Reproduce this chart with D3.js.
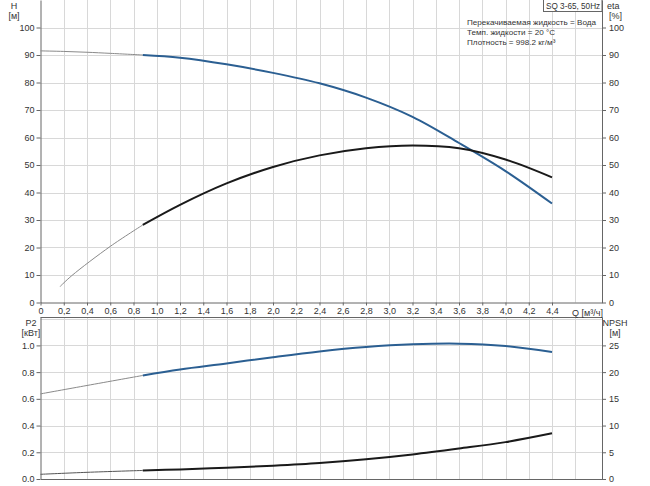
<!DOCTYPE html>
<html><head><meta charset="utf-8">
<script src="https://cdn.jsdelivr.net/npm/d3@7"></script>
<style>
body{margin:0;background:#fff;}
svg{display:block;font-family:"Liberation Sans",Arial,sans-serif;}
text{fill:#333;}
</style></head>
<body>
<svg id="c" width="650" height="486"></svg>
<script>
// ---- data ----
const xTicks = [0,0.2,0.4,0.6,0.8,1.0,1.2,1.4,1.6,1.8,2.0,2.2,2.4,2.6,2.8,3.0,3.2,3.4,3.6,3.8,4.0,4.2,4.4];
const xGrid = [0.2,0.4,0.6,0.8,1.0,1.2,1.4,1.6,1.8,2.0,2.2,2.4,2.6,2.8,3.0,3.2,3.4,3.6,3.8,4.0,4.2,4.4,4.6];
const hTicks = [0,10,20,30,40,50,60,70,80,90,100];
const etaTicks = [0,10,20,30,40,50,60,70,80,90,100];
const p2Ticks = [0,0.2,0.4,0.6,0.8,1.0];
const npshTicks = [0,5,10,15,20,25];

const qThinH = [0, 0.2, 0.4, 0.6, 0.88];
const hThin = [91.5, 91.3, 91.0, 90.6, 90.0];
const qMain = [0.88, 1.2, 1.6, 2.0, 2.4, 2.8, 3.2, 3.6, 4.0, 4.4];
const hMain = [90.0, 89.0, 86.6, 83.5, 79.7, 74.5, 67.5, 58.0, 47.8, 36.0];

const qThinEta = [0.168, 0.27, 0.6, 0.88];
const etaThin = [5.8, 9.8, 20.4, 28.2];
const etaMain = [28.2, 35.5, 43.3, 49.3, 53.5, 56.1, 57.1, 56.1, 52.0, 45.5];

const qThinP = [0, 0.4, 0.88];
const p2Thin = [0.637, 0.70, 0.775];
const p2Main = [0.775, 0.82, 0.865, 0.912, 0.955, 0.988, 1.008, 1.013, 0.995, 0.95];

const npshThin = [0.88, 1.25, 1.6];
const npshMain = [1.6, 1.8, 2.1, 2.5, 3.0, 3.7, 4.6, 5.7, 6.9, 8.55];

const infoLines = ["Перекачиваемая жидкость = Вода", "Темп. жидкости = 20 °C", "Плотность = 998.2 кг/м³"];
const title = "SQ 3-65, 50Hz";

// ---- drawing ----
const svg = d3.select("#c");
const X0 = 40.5, X1 = 602;
const x = d3.scaleLinear().domain([0, 4.83]).range([X0, X1]);
const yTop = d3.scaleLinear().domain([0, 110]).range([302.5, 0]);
const yEta = d3.scaleLinear().domain([0, 110]).range([302.5, 0]);
const yP2 = d3.scaleLinear().domain([0, 1.2125]).range([479, 317]);
const yN = d3.scaleLinear().domain([0, 30.3125]).range([479, 317]);

const gridC = "#d8d8d8", axisC = "#666", blue = "#2b5f92", dark = "#1a1a1a", thinC = "#8a8a8a";
const fs = "9px";

function grid(yScale, yVals, yB, yT) {
  svg.append("g").selectAll("line.v").data(xGrid).join("line")
    .attr("x1", d => Math.round(x(d)) + 0.5).attr("x2", d => Math.round(x(d)) + 0.5)
    .attr("y1", yT).attr("y2", yB).attr("stroke", gridC).attr("stroke-width", 1);
  svg.append("g").selectAll("line.h").data(yVals).join("line")
    .attr("x1", X0).attr("x2", X1)
    .attr("y1", d => Math.round(yScale(d)) + 0.5).attr("y2", d => Math.round(yScale(d)) + 0.5)
    .attr("stroke", gridC).attr("stroke-width", 1);
}
grid(yTop, [10,20,30,40,50,60,70,80,90,100], 302.5, 0);
grid(yP2, [0.2,0.4,0.6,0.8,1.0,1.2], 479, 317);

function styleAxis(g) {
  g.select(".domain").attr("stroke", axisC);
  g.selectAll(".tick line").attr("stroke", axisC);
  g.selectAll(".tick text").attr("fill", "#333").style("font-size", fs).style("font-family", "Liberation Sans, Arial, sans-serif");
}
const fmtC = d => d === 0 ? "0" : d3.format(".1f")(d).replace(".", ",");
svg.append("g").attr("transform", `translate(0,${yTop(0)})`)
  .call(d3.axisBottom(x).tickValues(xTicks).tickFormat(fmtC).tickSize(3).tickSizeOuter(0).tickPadding(2))
  .call(styleAxis);
svg.append("g").attr("transform", `translate(${X0},0)`)
  .call(d3.axisLeft(yTop).tickValues(hTicks).tickSize(4).tickSizeOuter(0).tickPadding(2))
  .call(styleAxis);
svg.append("g").attr("transform", `translate(${X1},0)`)
  .call(d3.axisRight(yEta).tickValues(etaTicks).tickSize(4).tickSizeOuter(0).tickPadding(3))
  .call(styleAxis);

svg.append("g").attr("transform", `translate(0,${yP2(0)})`)
  .call(d3.axisBottom(x).tickValues([]).tickSizeOuter(0))
  .call(styleAxis);
svg.append("line").attr("x1", X0).attr("x2", X1).attr("y1", 317.5).attr("y2", 317.5).attr("stroke", axisC);
svg.append("g").attr("transform", `translate(${X0},0)`)
  .call(d3.axisLeft(yP2).tickValues(p2Ticks).tickFormat(d3.format(".1f")).tickSize(4).tickSizeOuter(0).tickPadding(2))
  .call(styleAxis);
svg.append("g").attr("transform", `translate(${X1},0)`)
  .call(d3.axisRight(yN).tickValues(npshTicks).tickSize(4).tickSizeOuter(0).tickPadding(3))
  .call(styleAxis);

function curve(qs, vs, ys, color, w) {
  const line = d3.line().x((d, i) => x(qs[i])).y(d => ys(d)).curve(d3.curveCatmullRom.alpha(0.5));
  svg.append("path").attr("d", line(vs)).attr("fill", "none").attr("stroke", color).attr("stroke-width", w)
    .attr("stroke-linecap", "butt");
}
curve(qThinH, hThin, yTop, thinC, 1);
curve(qMain, hMain, yTop, blue, 2);
curve(qThinEta, etaThin, yEta, thinC, 1);
curve(qMain, etaMain, yEta, dark, 2);
curve(qThinP, p2Thin, yP2, thinC, 1);
curve(qMain, p2Main, yP2, blue, 2);
curve(qThinP, npshThin, yN, "#555", 1);
curve(qMain, npshMain, yN, dark, 2);

function txt(s, xx, yy, anchor, size) {
  svg.append("text").attr("x", xx).attr("y", yy).attr("text-anchor", anchor || "start")
    .style("font-size", size || fs).text(s);
}
txt("H", 14, 9, "middle");
txt("[м]", 14, 19, "middle");
txt("eta", 607, 9, "start");
txt("[%]", 609, 19, "start");
txt("P2", 31, 326, "middle");
txt("[кВт]", 31, 336, "middle");
txt("NPSH", 615, 326, "middle");
txt("[м]", 615, 336, "middle");
txt("Q [м³/ч]", 572, 316, "start");

svg.append("rect").attr("x", 543.5).attr("y", -1).attr("width", 58.5).attr("height", 12.5)
  .attr("fill", "#fff").attr("stroke", axisC);
txt(title, 546, 9, "start", "8.2px");
infoLines.forEach((s, i) => txt(s, 467, 25 + i * 10, "start", "8.1px"));
</script>
</body></html>
